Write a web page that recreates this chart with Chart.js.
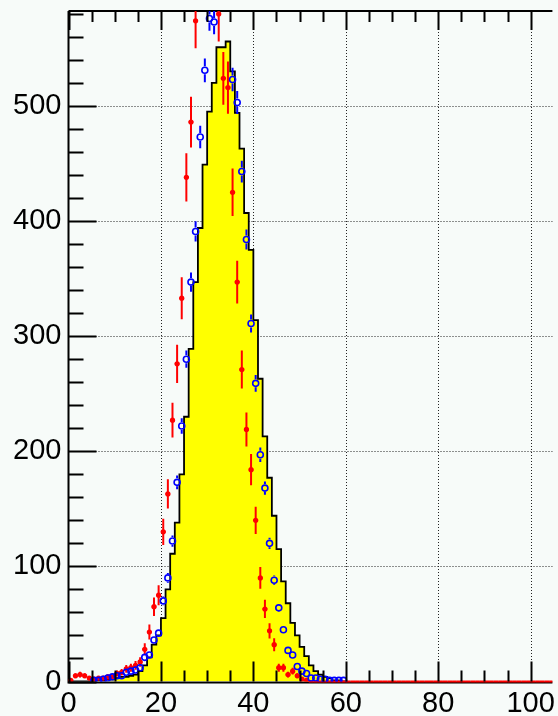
<!DOCTYPE html>
<html>
<head>
<meta charset="utf-8">
<script src="https://cdn.jsdelivr.net/npm/chart.js@4"></script>
<style>
  html, body { margin: 0; padding: 0; background: #f7fbf9; }
  canvas { display: block; }
</style>
</head>
<body>
<canvas id="grafico" width="558" height="716"></canvas>
<script>
// histograma amarillo, bins de ancho 1 empezando en 0
const histograma = [0, 0, 0, 0, 0, 1, 1, 1, 2, 2,
  3, 4, 4, 5, 6, 9, 14, 21, 32, 40,
  55, 80, 111, 138, 180, 230, 289, 347, 394, 449,
  495, 520, 551, 551, 556, 530, 494, 463, 407, 375,
  314, 263, 213, 177, 144, 115, 87, 68, 51, 40,
  30, 22, 14, 9, 6, 4, 3, 1, 1, 0];

// puntos azules (circulo abierto), null = bin vacio
const azul = [null, null, null, null, null, 1, 1, 2, 3, 4,
  5, 5, 8, 9, 10, 12, 21, 23, 36, 42,
  70, 90, 122, 173, 222, 280, 347, 391, 473, 531,
  576, 573, 600, 612, 598, 523, 503, 443, 384, 311,
  259, 197, 168, 120, 88, 64, 45, 27, 23, 13,
  9, 7, 3, 3, 2, 2, 1, 1, 1, 1];

// puntos rojos (circulo lleno)
const rojo = [1, 5, 6, 5, 3, 2, 3, 3, 4, 4,
  7, 8, 11, 12, 14, 17, 28, 43, 65, 75,
  130, 163, 227, 276, 333, 438, 486, 574, 618, 640,
  635, 612, 580, 524, 516, 425, 347, 271, 219, 184,
  140, 90, 63, 44, 32, 12, 12, 6, 9, 5,
  2, 1, 0, 0, 0, 0, 0, 0, 0, 0,
  0, 0, 0, 0, 0, 0, 0, 0, 0, 0,
  0, 0, 0, 0, 0, 0, 0, 0, 0, 0,
  0, 0, 0, 0, 0, 0, 0, 0, 0, 0,
  0, 0, 0, 0, 0, 0, 0, 0, 0, 0,
  0, 0, 0, 0, 0];

const ticksX = [0, 20, 40, 60, 80, 100];
const ticksY = [0, 100, 200, 300, 400, 500];

const X_MAX = 104.7;
const Y_MAX = 582.5;
const PESO_AZUL = 0.2; // histograma azul escalado -> error = sqrt(w*v)

const fuente = { family: "'Liberation Sans', Arial, sans-serif", size: 29 };

function puntos(arr) {
  const out = [];
  arr.forEach((v, k) => {
    if (v !== null) out.push({ x: k + 0.5, y: v });
  });
  return out;
}

const datosHist = histograma.map((v, k) => ({ x: k, y: v }));
datosHist.push({ x: histograma.length, y: 0 });

// fondo, grilla, ejes y barras de error
const estiloRoot = {
  id: "estiloRoot",
  beforeDraw(chart) {
    const ctx = chart.ctx;
    ctx.save();
    ctx.fillStyle = "#f7fbf9";
    ctx.fillRect(0, 0, chart.width, chart.height);
    ctx.restore();
  },
  beforeDatasetsDraw(chart) {
    const { ctx, chartArea: a, scales: { x, y } } = chart;
    ctx.save();
    ctx.strokeStyle = "#222";
    ctx.lineWidth = 1;
    ctx.setLineDash([1, 2]);
    ticksX.slice(1).forEach(t => {
      const px = Math.round(x.getPixelForValue(t)) + 0.5;
      ctx.beginPath();
      ctx.moveTo(px, a.top);
      ctx.lineTo(px, a.bottom);
      ctx.stroke();
    });
    ticksY.slice(1).forEach(t => {
      const py = Math.round(y.getPixelForValue(t)) + 0.5;
      ctx.beginPath();
      ctx.moveTo(a.left, py);
      ctx.lineTo(a.right, py);
      ctx.stroke();
    });
    ctx.setLineDash([]);
    // marco
    ctx.strokeStyle = "#000";
    ctx.lineWidth = 2;
    ctx.beginPath();
    ctx.moveTo(a.left, a.top);
    ctx.lineTo(a.right, a.top);
    ctx.moveTo(a.left, a.top);
    ctx.lineTo(a.left, a.bottom + 1);
    ctx.lineTo(a.right, a.bottom + 1);
    ctx.stroke();
    ctx.restore();
  },
  beforeDatasetDraw(chart, args) {
    const ds = chart.data.datasets[args.index];
    if (!ds.errores) return;
    const { ctx, chartArea: a, scales: { x, y } } = chart;
    ctx.save();
    ctx.beginPath();
    ctx.rect(a.left, a.top, a.right - a.left, a.bottom - a.top + 2);
    ctx.clip();
    ctx.strokeStyle = ds.borderColor;
    ctx.lineWidth = 2;
    ds.data.forEach(p => {
      const px = x.getPixelForValue(p.x);
      const py = y.getPixelForValue(p.y);
      const e = ds.errores === "rojo" ? Math.sqrt(p.y) : Math.sqrt(PESO_AZUL * p.y);
      const top = y.getPixelForValue(p.y + e);
      const bot = y.getPixelForValue(p.y - e);
      ctx.beginPath();
      if (ds.errores === "rojo") {
        ctx.moveTo(px, top);
        ctx.lineTo(px, bot);
        ctx.moveTo(x.getPixelForValue(p.x - 0.5), py);
        ctx.lineTo(x.getPixelForValue(p.x + 0.5), py);
      } else {
        const r = 4;
        if (top < py - r) { ctx.moveTo(px, top); ctx.lineTo(px, py - r); }
        if (bot > py + r) { ctx.moveTo(px, py + r); ctx.lineTo(px, bot); }
      }
      ctx.stroke();
    });
    ctx.restore();
  },
  afterDatasetsDraw(chart) {
    const { ctx, chartArea: a, scales: { x, y } } = chart;
    ctx.save();
    ctx.strokeStyle = "#000";
    ctx.lineWidth = 2;
    ctx.beginPath();
    // eje x: mayores cada 20, menores cada 5
    for (let t = 0; t <= X_MAX; t += 5) {
      const px = Math.round(x.getPixelForValue(t)) + 0.5;
      const mayor = t % 20 === 0;
      const lb = mayor ? 20 : 11;
      const lt = mayor ? 19 : 11;
      ctx.moveTo(px, a.bottom);
      ctx.lineTo(px, a.bottom - lb);
      ctx.moveTo(px, a.top);
      ctx.lineTo(px, a.top + lt);
    }
    // eje y: mayores cada 100, menores cada 20
    for (let t = 0; t <= Y_MAX; t += 20) {
      const py = Math.round(y.getPixelForValue(t)) + 0.5;
      const l = t % 100 === 0 ? 28 : 15;
      ctx.moveTo(a.left, py);
      ctx.lineTo(a.left + l, py);
    }
    ctx.stroke();
    ctx.restore();
  }
};

const ctx = document.getElementById("grafico").getContext("2d");

new Chart(ctx, {
  type: "line",
  data: {
    datasets: [
      {
        label: "histograma",
        data: datosHist,
        stepped: true,
        fill: "origin",
        backgroundColor: "#ffff00",
        borderColor: "#000000",
        borderWidth: 1.8,
        pointRadius: 0,
        clip: 0,
        order: 3
      },
      {
        label: "rojo",
        data: puntos(rojo),
        showLine: false,
        pointStyle: "circle",
        // los bins vacios solo muestran la barra horizontal
        pointRadius: c => (c.raw && c.raw.y === 0 ? 0 : 2.6),
        pointBorderWidth: 0,
        backgroundColor: "#ff0000",
        borderColor: "#ff0000",
        errores: "rojo",
        clip: 0,
        order: 2
      },
      {
        label: "azul",
        data: puntos(azul),
        showLine: false,
        pointStyle: "circle",
        pointRadius: 3,
        pointBorderWidth: 1.6,
        pointBackgroundColor: "rgba(0,0,0,0)",
        borderColor: "#0000ff",
        pointBorderColor: "#0000ff",
        errores: "azul",
        clip: 0,
        order: 1
      }
    ]
  },
  options: {
    responsive: false,
    devicePixelRatio: 1,
    animation: false,
    events: [],
    layout: { padding: { top: 11, left: 0, right: 0, bottom: 0 } },
    plugins: { legend: { display: false }, tooltip: { enabled: false } },
    scales: {
      x: {
        type: "linear",
        min: 0,
        max: X_MAX,
        grid: { display: false, drawTicks: false },
        border: { display: false },
        ticks: {
          stepSize: 20,
          includeBounds: false,
          autoSkip: false,
          maxRotation: 0,
          padding: 5,
          color: "#000",
          font: fuente
        },
        afterFit(s) {
          s.height = 34.5;
          s.paddingLeft = 0;
          s.paddingRight = 0;
        }
      },
      y: {
        type: "linear",
        min: 0,
        max: Y_MAX,
        grid: { display: false, drawTicks: false },
        border: { display: false },
        ticks: {
          stepSize: 100,
          includeBounds: false,
          padding: 7,
          color: "#000",
          font: fuente
        },
        afterFit(s) {
          s.width = 68.5;
          s.paddingTop = 0;
          s.paddingBottom = 0;
        }
      }
    }
  },
  plugins: [estiloRoot]
});
</script>
</body>
</html>
